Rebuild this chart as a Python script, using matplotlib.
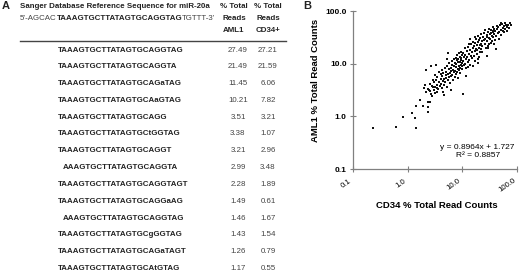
import matplotlib
matplotlib.use('Agg')
import matplotlib.pyplot as plt
from matplotlib.ticker import FixedLocator, NullLocator

W, H = 520, 276

# panel A table
seqs = ['TAAAGTGCTTATAGTGCAGGTAG', 'TAAAGTGCTTATAGTGCAGGTA', 'TAAAGTGCTTATAGTGCAGaTAG',
        'TAAAGTGCTTATAGTGCAaGTAG', 'TAAAGTGCTTATAGTGCAGG', 'TAAAGTGCTTATAGTGCtGGTAG',
        'TAAAGTGCTTATAGTGCAGGT', 'AAAGTGCTTATAGTGCAGGTA', 'TAAAGTGCTTATAGTGCAGGTAGT',
        'TAAAGTGCTTATAGTGCAGGaAG', 'AAAGTGCTTATAGTGCAGGTAG', 'TAAAGTGCTTATAGTGCgGGTAG',
        'TAAAGTGCTTATAGTGCAGaTAGT', 'TAAAGTGCTTATAGTGCAtGTAG']
aml1_reads = [27.49, 21.49, 11.45, 10.21, 3.51, 3.38, 3.21, 2.99, 2.28, 1.49, 1.46, 1.43, 1.26, 1.17]
cd34_reads = [27.21, 21.59, 6.06, 7.82, 3.21, 1.07, 2.96, 3.48, 1.89, 0.61, 1.67, 1.54, 0.79, 0.55]
ref_parts = [("5\u2019-AGCAC", 'normal'), ('TAAAGTGCTTATAGTGCAGGTAG', 'bold'), ("TGTTT-3\u2019", 'normal')]

# panel B scatter (CD34 %, AML1 %)
cd34_pct = [0.23, 0.60, 1.40, 0.82, 1.34, 1.22, 1.44, 1.90, 2.34, 2.58, 2.38, 2.40, 1.65, 2.2, 2.0,
            2.1, 2.4, 2.6, 2.9, 3.1, 3.4, 4.7, 4.5, 10.1, 2.19, 2.69, 3.3, 5.4, 40.7, 28.7, 19.5,
            2.5, 2.6, 2.7, 2.8, 2.9, 3.0, 3.0, 3.1, 3.2, 3.3, 3.4, 3.5, 3.5, 3.6, 3.7, 3.8, 3.9, 4.0, 4.0, 2.8,
            4.1, 4.2, 4.3, 4.3, 4.4, 4.5, 4.6, 4.7, 4.8, 4.9, 5.0, 5.0, 5.1, 5.2, 5.3, 5.4, 5.5, 5.6,
            5.7, 5.8, 5.9, 6.0, 6.1, 6.2, 6.3, 6.4, 6.5, 6.6, 6.7, 6.8, 6.9, 7.0, 7.0, 6.2, 5.3,
            7.2, 7.3, 7.4, 7.5, 7.6, 7.7, 7.8, 7.9, 8.0, 8.1, 8.2, 8.3, 8.4, 8.5, 8.6, 8.7, 8.8, 8.9,
            9.0, 9.1, 9.2, 9.3, 9.4, 9.5, 9.6, 9.7, 9.8, 9.9, 10.0, 10.2, 10.4, 10.6, 10.8, 11.0,
            11.2, 11.4, 11.6, 11.8, 12.0, 11.5,
            12.3, 12.6, 12.9, 13.2, 13.5, 13.8, 14.1, 14.4, 14.7, 15.0, 15.3, 15.6, 15.9, 16.2, 16.5,
            16.8, 17.1, 17.4, 17.7, 18.0, 18.3, 18.6, 18.9, 19.2, 19.5, 19.8, 20.1, 20.4, 20.7, 21.0,
            21.3, 21.6, 21.9, 14.0, 16.0, 22.0, 13.0, 17.0, 19.0, 12.5,
            22.5, 23.2, 24.0, 24.8, 25.5, 26.2, 27.0, 27.8, 28.6, 29.4, 30.2, 31.0, 31.8, 32.6, 33.4,
            34.2, 35.0, 35.8, 36.6, 37.4, 38.2, 39.0, 39.8, 23.0, 26.0, 30.0, 33.0, 36.0, 28.0, 25.0,
            34.0, 31.0, 38.0, 29.0, 37.0,
            41.0, 42.5, 44.0, 45.5, 47.0, 48.5, 50.0, 51.5, 53.0, 54.5, 56.0, 57.5, 59.0, 61.0, 63.0,
            65.0, 67.0, 69.0, 71.0, 74.0, 77.0, 60.0, 46.0, 52.0, 43.0]
aml1_pct = [0.61, 0.64, 0.59, 0.96, 0.94, 1.16, 1.57, 1.60, 1.90, 1.90, 1.53, 1.23, 2.05, 2.9, 3.5,
            3.9, 3.3, 3.0, 3.6, 2.8, 3.4, 2.55, 2.9, 2.6, 7.6, 9.2, 9.5, 15.7, 18.6, 14.0, 10.3,
            3.2, 4.1, 2.7, 3.8, 5.0, 3.1, 4.4, 6.2, 3.6, 4.8, 2.9, 4.0, 5.6, 3.3, 7.0, 4.5, 3.8, 5.2, 6.4, 2.4,
            4.1, 3.4, 5.8, 7.6, 4.6, 6.7, 3.9, 5.1, 8.3, 4.4, 6.0, 7.1, 5.4, 3.6, 9.0, 6.3, 4.8, 7.8,
            5.6, 10.2, 6.6, 4.3, 8.4, 5.9, 7.2, 11.3, 6.1, 9.3, 4.9, 7.7, 12.4, 6.8, 8.9, 3.1, 12.5,
            10.1, 5.7, 7.4, 13.0, 8.6, 6.4, 9.8, 11.6, 7.1, 14.3, 8.0, 10.6, 5.3, 12.2, 9.1, 7.6, 15.8, 10.9,
            8.4, 13.4, 6.6, 11.8, 9.6, 17.0, 12.8, 8.9, 10.4, 14.6, 7.8, 11.2, 16.2, 9.4, 13.1, 19.5,
            10.0, 14.9, 8.2, 12.0, 17.6, 5.9,
            13.6, 10.7, 21.0, 15.4, 11.7, 18.3, 9.6, 14.2, 23.5, 16.8, 12.6, 19.9, 26.0, 14.0, 21.7,
            17.3, 11.1, 24.6, 19.0, 29.0, 15.5, 22.3, 18.1, 33.0, 25.4, 20.2, 13.3, 27.6, 22.8, 17.0,
            30.5, 24.0, 19.3, 30.0, 9.0, 36.0, 24.0, 32.0, 12.0, 8.5,
            26.4, 21.5, 31.6, 38.5, 24.1, 29.4, 20.2, 34.8, 27.1, 40.5, 31.0, 23.6, 36.7, 29.0, 43.0,
            33.5, 26.5, 39.4, 31.4, 46.2, 35.8, 28.6, 41.8, 17.0, 44.0, 19.5, 25.0, 50.0, 32.0, 28.0,
            38.0, 45.0, 24.0, 22.0, 41.0,
            33.0, 45.5, 37.7, 49.8, 40.3, 53.2, 35.5, 44.4, 56.0, 42.5, 48.1, 39.5, 52.0, 45.0, 55.0,
            49.0, 42.0, 53.5, 47.5, 58.0, 55.0, 59.0, 30.0, 60.0, 52.0]
axis_ticks = [0.1, 1.0, 10.0, 100.0]
tick_labels = ['0.1', '1.0', '10.0', '100.0']
fit_text = 'y = 0.8964x + 1.727\nR\u00b2 = 0.8857'

fig = plt.figure(figsize=(W / 100, H / 100), dpi=100)
renderer = fig.canvas.get_renderer()
tfont = ['Liberation Sans Narrow', 'Liberation Sans']
tcol = '#222222'

# size the table font so the reference sequence row is ~124 px wide
probe = fig.text(0, 0, seqs[0], family=tfont, fontweight='bold', fontsize=10)
tsize = min(10 * 124 / probe.get_window_extent(renderer).width, 7.0)
probe.remove()


def put(x, y, s, **kw):
    kw.setdefault('family', tfont)
    kw.setdefault('color', tcol)
    kw.setdefault('va', 'center')
    kw.setdefault('fontsize', tsize)
    return fig.text(x / W, 1 - y / H, s, **kw)


put(2, 6, 'A', fontsize=8, fontweight='bold', family='Liberation Sans')
put(20, 6, 'Sanger Database Reference Sequence for miR-20a', fontweight='bold')
x = 20
for s, w in ref_parts:
    t = put(x, 18, s, fontweight=w, color=tcol if w == 'bold' else '#444444')
    x += t.get_window_extent(renderer).width

for cx, lab in [(234, 'AML1'), (268, 'CD34+')]:
    put(cx, 6, '% Total', fontweight='bold', ha='center')
    put(cx, 18, 'Reads', fontweight='bold', ha='center')
    put(cx, 30, lab, fontweight='bold', ha='center')

fig.add_artist(plt.Line2D([20 / W, 286 / W], [1 - 41 / H, 1 - 41 / H], color='#444444', lw=1.0))

tmp = put(0, 0, 'T', fontweight='bold')
t_w = tmp.get_window_extent(renderer).width
tmp.remove()

for i, s in enumerate(seqs):
    y = 50 + 16.8 * i
    x0 = 58 if s.startswith('T') else 58 + t_w
    put(x0, y, s, fontweight='bold')
    put(238, y, f'{aml1_reads[i]:.2f}', ha='center', color='#444444')
    put(268, y, f'{cd34_reads[i]:.2f}', ha='center', color='#444444')

# panel B
ax = fig.add_axes([353 / W, 1 - 169 / H, 164 / W, 158 / H])
ax.scatter(cd34_pct, aml1_pct, s=0.9, marker='s', color='#111111', linewidths=0)
ax.set_xscale('log')
ax.set_yscale('log')
ax.set_xlim(0.1, 100)
ax.set_ylim(0.1, 100)
for sp in ['top', 'right']:
    ax.spines[sp].set_visible(False)
for sp in ['left', 'bottom']:
    ax.spines[sp].set_color('#808080')
    ax.spines[sp].set_linewidth(0.9)
ax.xaxis.set_major_locator(FixedLocator(axis_ticks))
ax.yaxis.set_major_locator(FixedLocator(axis_ticks))
ax.xaxis.set_minor_locator(NullLocator())
ax.yaxis.set_minor_locator(NullLocator())
ax.tick_params(direction='inout', length=5, width=0.8, color='#808080')
ax.set_yticklabels(tick_labels, fontsize=6, fontweight='bold', family='Liberation Sans')
ax.set_xticklabels([])
for tv, tl in zip(axis_ticks, tick_labels):
    ax.annotate(tl, xy=(tv, 0), xycoords=('data', 'axes fraction'), xytext=(-3, -6),
                textcoords='offset points', rotation=35, ha='right', va='top',
                rotation_mode='anchor', fontsize=5.6, family='Liberation Sans',
                annotation_clip=False)
ax.tick_params(axis='y', pad=2)
ax.set_xlabel('CD34 % Total Read Counts', fontsize=6.8, fontweight='bold',
              family='Liberation Sans')
ax.xaxis.set_label_coords(0.51, -0.2)
ax.set_ylabel('AML1 % Total Read Counts', fontsize=6.8, fontweight='bold',
              family='Liberation Sans')
ax.yaxis.set_label_coords(-0.2, 0.56)
ax.text(0.76, 0.11, fit_text, transform=ax.transAxes, ha='center', va='center',
        fontsize=6, family='Liberation Sans', linespacing=1.1)
put(303, 6, 'B', fontsize=8, fontweight='bold', family='Liberation Sans')

fig.savefig('out.png', dpi=100, facecolor='white')
